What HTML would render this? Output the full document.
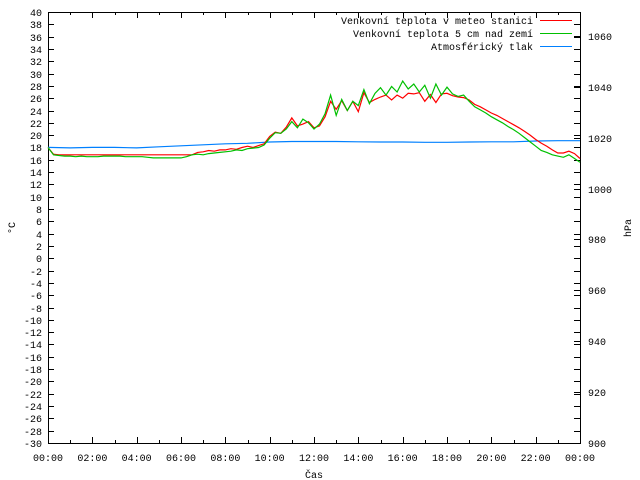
<!DOCTYPE html>
<html><head><meta charset="utf-8"><style>
body{margin:0;background:#fff}
svg{display:block;font-family:"Liberation Mono",monospace;font-size:10px}
</style></head><body>
<svg id="chart" width="640" height="480" viewBox="0 0 640 480" xmlns="http://www.w3.org/2000/svg">
<g id="axes"></g>
<g id="series"></g>
<g id="legend">
<text x="533" y="24" text-anchor="end">Venkovní teplota v meteo stanici</text>
<line x1="540" y1="20.5" x2="572" y2="20.5" stroke="#ff0000"/>
<text x="533" y="37" text-anchor="end">Venkovní teplota 5 cm nad zemí</text>
<line x1="540" y1="33.5" x2="572" y2="33.5" stroke="#00c000"/>
<text x="533" y="50" text-anchor="end">Atmosférický tlak</text>
<line x1="540" y1="46.5" x2="572" y2="46.5" stroke="#0080ff"/>
</g>
<text x="314" y="478" text-anchor="middle">Čas</text>
<text transform="translate(15,228) rotate(-90)" text-anchor="middle">°C</text>
<text transform="translate(631,228) rotate(-90)" text-anchor="middle">hPa</text>
</svg>
<script>
const xTickLabels=["00:00","02:00","04:00","06:00","08:00","10:00","12:00","14:00","16:00","18:00","20:00","22:00","00:00"];
const stationTemp=[18.0,16.9,16.8,16.8, 16.8,16.8,16.8,16.8, 16.8,16.8,16.8,16.8, 16.8,16.8,16.8,16.8, 16.8,16.8,16.8,16.8, 16.8,16.8,16.8,16.8, 16.8,16.8,16.8,17.2,
17.3,17.5,17.4,17.6, 17.6,17.8,17.7,18.0, 18.2,18.0,18.3,18.6, 19.8,20.5,20.3,21.3, 22.8,21.5,21.8,22.2, 21.2,21.5,23.0,25.5, 24.2,25.6,24.0,25.5,
23.8,26.9,25.3,25.8, 26.2,26.5,25.7,26.5, 26.0,26.8,26.7,26.9, 25.5,26.6,25.3,26.7, 26.8,26.4,26.2,26.1, 25.7,25.0,24.6,24.1, 23.6,23.2,22.7,22.2,
21.7,21.2,20.6,20.0, 19.3,18.7,18.2,17.6, 17.1,17.1,17.4,17.0, 16.2];
const groundTemp=[18.0,16.8,16.7,16.6, 16.6,16.5,16.6,16.5, 16.5,16.5,16.6,16.6, 16.6,16.6,16.5,16.5, 16.5,16.5,16.4,16.3, 16.3,16.3,16.3,16.3, 16.3,16.5,16.8,16.9,
16.8,17.0,17.1,17.2, 17.3,17.4,17.6,17.5, 17.8,17.9,18.0,18.4, 19.5,20.4,20.3,21.0, 22.2,21.2,22.6,22.0, 21.0,21.8,23.5,26.5, 23.2,25.8,24.0,25.5,
24.8,27.4,25.1,26.8, 27.7,26.5,27.9,27.0, 28.8,27.5,28.3,27.0, 28.1,26.0,28.3,26.5, 27.8,26.7,26.3,26.5, 25.5,24.6,24.1,23.6, 23.0,22.5,22.0,21.4,
20.9,20.3,19.6,18.9, 18.2,17.5,17.2,16.8, 16.6,16.4,16.8,16.2, 15.6];
const pressure=[1016.2,1016.0,1016.2,1016.2,1016.0,1016.4,1016.8,1017.2,1017.6,1017.8,1018.3,1018.5,1018.5,1018.5,1018.4,1018.3,1018.3,1018.2,1018.2,1018.3,1018.4,1018.4,1018.7,1018.8,1018.8];
const yTicks=[40,38,36,34,32,30,28,26,24,22,20,18,16,14,12,10,8,6,4,2,0,-2,-4,-6,-8,-10,-12,-14,-16,-18,-20,-22,-24,-26,-28,-30];
const y2Ticks=[900,920,940,960,980,1000,1020,1040,1060];

const L=48,R=580,T=12,B=443;
const xs=h=>L+(R-L)*h/24;
const ys=v=>T+(40-v)*(B-T)/70;
const y2s=v=>B-(v-900)*(B-T)/169.4;
const NS="http://www.w3.org/2000/svg";
const axes=document.getElementById('axes'),series=document.getElementById('series');
function mk(tag,attrs,parent){const e=document.createElementNS(NS,tag);for(const k in attrs)e.setAttribute(k,attrs[k]);parent.appendChild(e);return e;}

let box=mk('rect',{x:L+.5,y:T+.5,width:R-L,height:B-T,fill:'none',stroke:'#000'},axes);



yTicks.forEach(v=>{const y=Math.round(ys(v))+.5;
 let t=mk('path',{d:`M${L} ${y}h6M${R} ${y}h-6`,stroke:'#000'},axes);
 
 
 let l=mk('text',{x:42,y:y+3.5,'text-anchor':'end'},axes);l.textContent=v;
 
 
});
y2Ticks.forEach(v=>{const y=Math.round(y2s(v))+.5;
 let t=mk('path',{d:`M${R} ${y}h-6`,stroke:'#000'},axes);
 
 
 let l=mk('text',{x:588,y:y+3.5},axes);l.textContent=v;
 
 
});
for(let h=0;h<=24;h++){const x=Math.round(xs(h))+.5,len=h%2?3:6;
 let t=mk('path',{d:`M${x} ${B}v-${len}M${x} ${T}v${len}`,stroke:'#000'},axes);
 
 
}
xTickLabels.forEach((s,i)=>{let l=mk('text',{x:xs(i*2),y:461,'text-anchor':'middle'},axes);l.textContent=s;
 
 
});

function line(arr,step,sc,color,name){
 const d=arr.map((v,i)=>(i?'L':'M')+xs(i*step).toFixed(1)+' '+sc(v).toFixed(1)).join('');
 let p=mk('path',{d,fill:'none',stroke:color,'stroke-width':1.2},series);
 
 
}
line(pressure,1,y2s,'#0080ff','pressure-line');
line(stationTemp,0.25,ys,'#ff0000','station-temp-line');
line(groundTemp,0.25,ys,'#00c000','ground-temp-line');
</script>
</body></html>
